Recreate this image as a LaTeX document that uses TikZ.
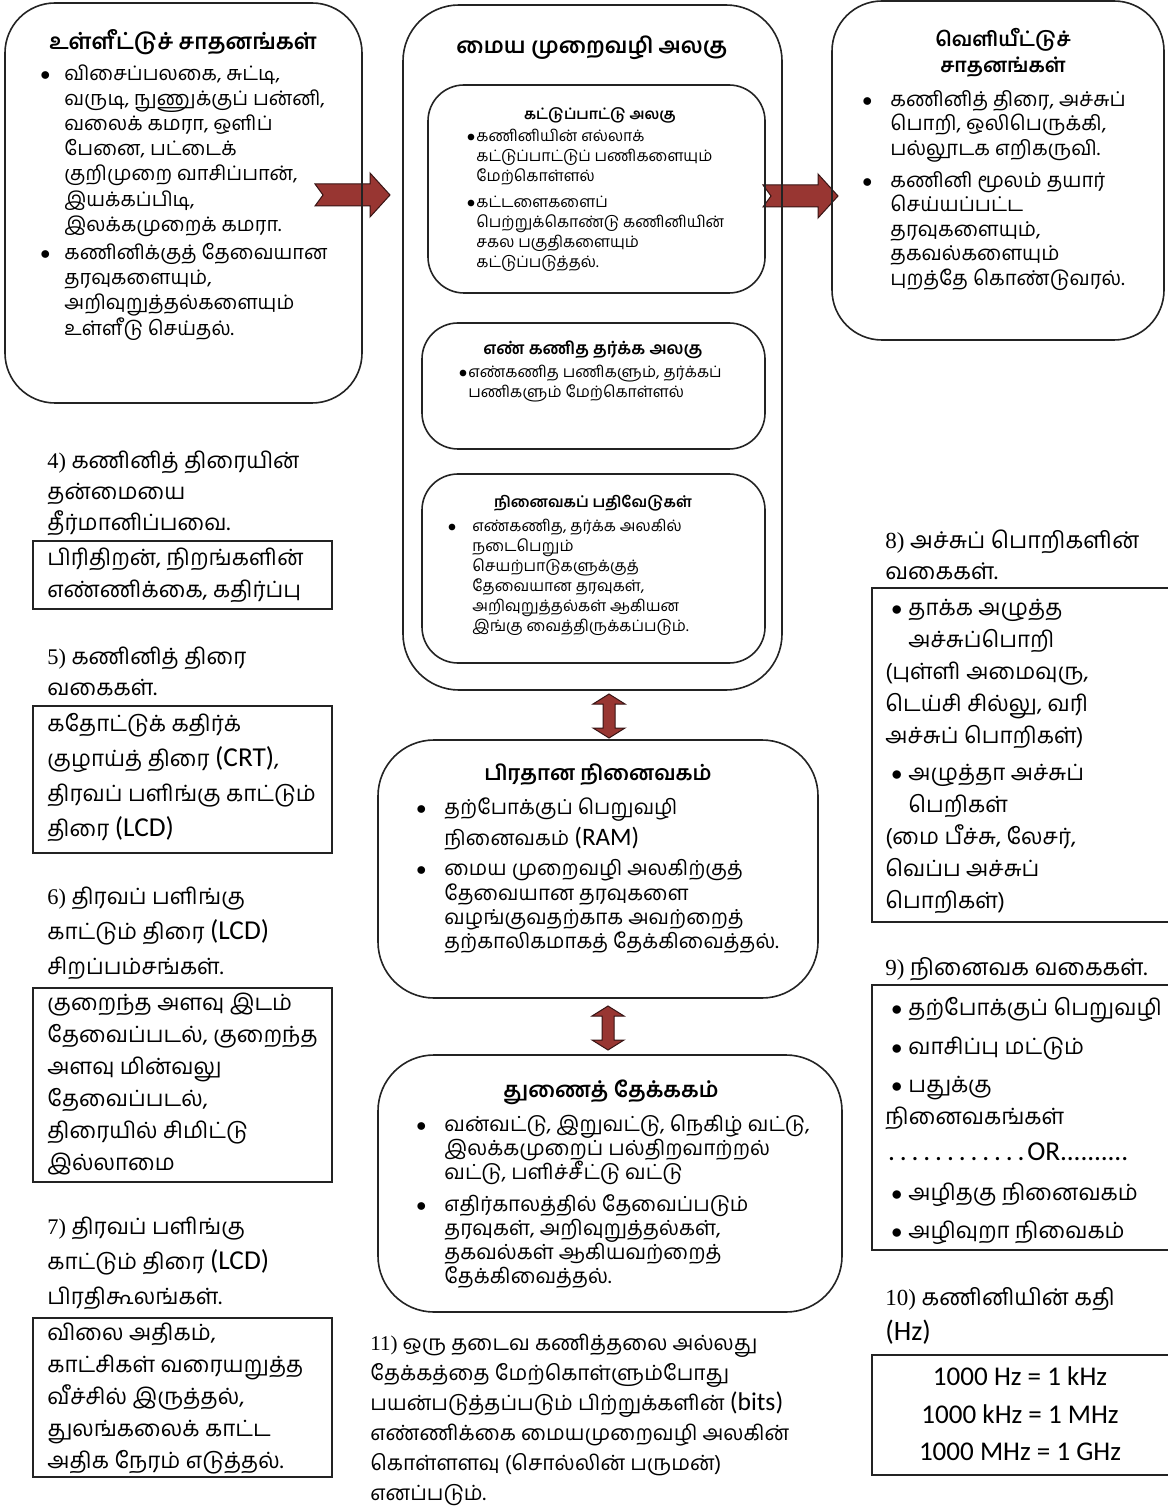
\documentclass[tikz,border=0pt]{standalone}
\usepackage{fontspec}
\setmainfont{Carlito}
\newfontfamily\tamil[Script=Tamil]{Hind Madurai}
\newfontfamily\calib[Scale=1.22]{Carlito}
\newfontfamily\ser{Liberation Serif}
\usetikzlibrary{fit}

\definecolor{arrowred}{RGB}{152,54,50}
\definecolor{arrowline}{RGB}{55,20,20}
\definecolor{boxline}{RGB}{35,35,35}

\newcommand{\bul}[1][6pt]{\makebox[0pt][r]{$\bullet$\hspace{#1}}}
\newcommand{\dotrun}[2]{\hbox to #1{\xleaders\hbox to #2{\hss.\hss}\hfill}}

\tikzset{
  roundbox/.style={draw=boxline, line width=0.8pt, rounded corners=25pt, inner sep=0pt},
  innerbox/.style={roundbox, rounded corners=18pt},
  plainbox/.style={draw=boxline, line width=0.7pt, inner sep=0pt},
  fatarrow/.style={fill=arrowred, draw=arrowline, line width=0.5pt},
  headtext/.style={font=\tamil\bfseries\fontsize{11}{13}\selectfont, align=center, inner sep=0pt},
  smallhead/.style={font=\tamil\bfseries\fontsize{8}{10}\selectfont, inner sep=0pt},
  bodytext/.style={anchor=north west, align=left, inner sep=0pt, font=\tamil\fontsize{10}{12.6}\selectfont},
  smalltext/.style={bodytext, font=\tamil\fontsize{7.9}{10}\selectfont},
  sidetext/.style={bodytext, font=\tamil\fontsize{11.2}{16}\selectfont},
}

\begin{document}
\begin{tikzpicture}[x=0.5pt,y=-0.5pt]
\useasboundingbox (0,0) rectangle (1167,1507);
\fill[white] (0,0) rectangle (1167,1507);

% block arrows
\foreach \t in {(390,195),(838,196)}
  \filldraw[fatarrow, shift={\t}] (-75,-11) -- (-20,-11) -- (-20,-22) -- (0,0) -- (-20,22) -- (-20,11) -- (-75,11) -- (-67,0) -- cycle;
\foreach \t in {(609,716),(608,1028)}
  \filldraw[fatarrow, shift={\t}] (0,-22) -- (16,-12) -- (6,-12) -- (6,12) -- (16,12) -- (0,22) -- (-16,12) -- (-6,12) -- (-6,-12) -- (-16,-12) -- cycle;

% input devices
\node[roundbox, fit={(5,3) (362,403)}] (inbox) {};
\node[headtext] (intitle) at (183,42) {உள்ளீட்டுச் சாதனங்கள்};
\node[bodytext] (intext) at (64,64) {\bul[7pt]விசைப்பலகை, சுட்டி,\\ வருடி, நுணுக்குப் பன்னி,\\ வலைக் கமரா, ஒளிப்\\ பேனை, பட்டைக்\\ குறிமுறை வாசிப்பான்,\\ இயக்கப்பிடி,\\ இலக்கமுறைக் கமரா.\\[1.5pt] \bul[7pt]கணினிக்குத் தேவையான\\ தரவுகளையும்,\\ அறிவுறுத்தல்களையும்\\ உள்ளீடு செய்தல்.};

% central processing unit
\node[roundbox, rounded corners=28pt, fit={(403,5) (782,690)}] (cpu) {};
\node[headtext] (cputitle) at (592,48) {மைய முறைவழி அலகு};

\node[innerbox, fit={(428,85) (765,293)}] (ctrl) {};
\node[smallhead, font=\tamil\bfseries\fontsize{7.4}{10}\selectfont] (ctrltitle) at (600,115) {கட்டுப்பாட்டு அலகு};
\node[smalltext] (ctrltext) at (476,129) {\bul[0.5pt]கணினியின் எல்லாக்\\ கட்டுப்பாட்டுப் பணிகளையும்\\ மேற்கொள்ளல்\\[3pt] \bul[0.5pt]கட்டளைகளைப்\\ பெற்றுக்கொண்டு கணினியின்\\ சகல பகுதிகளையும்\\ கட்டுப்படுத்தல்.};

\node[innerbox, fit={(422,323) (765,449)}] (alu) {};
\node[smallhead, font=\tamil\bfseries\fontsize{8.5}{10}\selectfont] (alutitle) at (593,350) {எண் கணித தர்க்க அலகு};
\node[smalltext] (alutext) at (468,365) {\bul[0.5pt]எண்கணித பணிகளும், தர்க்கப்\\ பணிகளும் மேற்கொள்ளல்};

\node[innerbox, fit={(422,474) (765,663)}] (reg) {};
\node[smallhead, font=\tamil\bfseries\fontsize{7.6}{10}\selectfont] (regtitle) at (593,503) {நினைவகப் பதிவேடுகள்};
\node[smalltext] (regtext) at (472,519) {\bul[8pt]எண்கணித, தர்க்க அலகில்\\ நடைபெறும்\\ செயற்பாடுகளுக்குத்\\ தேவையான தரவுகள்,\\ அறிவுறுத்தல்கள் ஆகியன\\ இங்கு வைத்திருக்கப்படும்.};

% output devices
\node[roundbox, fit={(832,1) (1164,340)}] (outbox) {};
\node[headtext, font=\tamil\bfseries\fontsize{10}{13}\selectfont] (outtitle) at (1003,53) {வெளியீட்டுச்\\ சாதனங்கள்};
\node[bodytext, font=\tamil\fontsize{10.2}{12.2}\selectfont] (outtext) at (890,90) {\bul[9pt]கணினித் திரை, அச்சுப்\\ பொறி, ஒலிபெருக்கி,\\ பல்லூடக எறிகருவி.\\[4pt] \bul[9pt]கணினி மூலம் தயார்\\ செய்யப்பட்ட\\ தரவுகளையும்,\\ தகவல்களையும்\\ புறத்தே கொண்டுவரல்.};

% main memory
\node[roundbox, rounded corners=28pt, fit={(378,740) (818,998)}] (ram) {};
\node[headtext, font=\tamil\bfseries\fontsize{10.4}{13}\selectfont] (ramtitle) at (598,775) {பிரதான நினைவகம்};
\node[bodytext, font=\tamil\fontsize{10.3}{12.2}\selectfont] (ramtext) at (444,797) {\bul[9pt]தற்போக்குப் பெறுவழி\\[2pt] நினைவகம் {\calib (RAM)}\\[3pt] \bul[9pt]மைய முறைவழி அலகிற்குத்\\ தேவையான தரவுகளை\\ வழங்குவதற்காக அவற்றைத்\\ தற்காலிகமாகத் தேக்கிவைத்தல்.};

% secondary storage
\node[roundbox, rounded corners=28pt, fit={(378,1055) (842,1312)}] (store) {};
\node[headtext, font=\tamil\bfseries\fontsize{10.8}{13}\selectfont] (storetitle) at (611,1092) {துணைத் தேக்ககம்};
\node[bodytext, font=\tamil\fontsize{10.4}{12}\selectfont] (storetext) at (444,1114) {\bul[9pt]வன்வட்டு, இறுவட்டு, நெகிழ் வட்டு,\\ இலக்கமுறைப் பல்திறவாற்றல்\\ வட்டு, பளிச்சீட்டு வட்டு\\[4pt] \bul[9pt]எதிர்காலத்தில் தேவைப்படும்\\ தரவுகள், அறிவுறுத்தல்கள்,\\ தகவல்கள் ஆகியவற்றைத்\\ தேக்கிவைத்தல்.};

\node[bodytext, font=\tamil\fontsize{10.5}{15}\selectfont] (note11) at (370,1334) {{\ser 11)} ஒரு தடைவ கணித்தலை அல்லது\\ தேக்கத்தை மேற்கொள்ளும்போது\\ பயன்படுத்தப்படும் பிற்றுக்களின் {\calib (bits)}\\ எண்ணிக்கை மையமுறைவழி அலகின்\\ கொள்ளளவு (சொல்லின் பருமன்)\\ எனப்படும்.};

% left column
\node[sidetext, font=\tamil\fontsize{11.2}{15.5}\selectfont] (head4) at (47,451) {{\ser 4)} கணினித் திரையின்\\ தன்மையை\\ தீர்மானிப்பவை.};
\node[plainbox, fit={(33,541) (332,609)}] (box4) {};
\node[sidetext] (text4) at (47,548) {பிரிதிறன், நிறங்களின்\\ எண்ணிக்கை, கதிர்ப்பு};

\node[sidetext, font=\tamil\fontsize{11.2}{15.5}\selectfont] (head5) at (47,647) {{\ser 5)} கணினித் திரை\\ வகைகள்.};
\node[plainbox, fit={(33,706) (332,853)}] (box5) {};
\node[sidetext, font=\tamil\fontsize{11.2}{17.5}\selectfont] (text5) at (47,713) {கதோட்டுக் கதிர்க்\\ குழாய்த் திரை {\calib (CRT)},\\ திரவப் பளிங்கு காட்டும்\\ திரை {\calib (LCD)}};

\node[sidetext, font=\tamil\fontsize{11.2}{17.5}\selectfont] (head6) at (47,887) {{\ser 6)} திரவப் பளிங்கு\\ காட்டும் திரை {\calib (LCD)}\\ சிறப்பம்சங்கள்.};
\node[plainbox, fit={(33,988) (332,1182)}] (box6) {};
\node[sidetext] (text6) at (47,993) {குறைந்த அளவு இடம்\\ தேவைப்படல், குறைந்த\\ அளவு மின்வலு\\ தேவைப்படல்,\\ திரையில் சிமிட்டு\\ இல்லாமை};

\node[sidetext, font=\tamil\fontsize{11.2}{17.5}\selectfont] (head7) at (47,1217) {{\ser 7)} திரவப் பளிங்கு\\ காட்டும் திரை {\calib (LCD)}\\ பிரதிகூலங்கள்.};
\node[plainbox, fit={(33,1318) (332,1477)}] (box7) {};
\node[sidetext] (text7) at (47,1323) {விலை அதிகம்,\\ காட்சிகள் வரையறுத்த\\ வீச்சில் இருத்தல்,\\ துலங்கலைக் காட்ட\\ அதிக நேரம் எடுத்தல்.};

% right column
\node[sidetext, font=\tamil\fontsize{11.5}{15.5}\selectfont] (head8) at (885,529) {{\ser 8)} அச்சுப் பொறிகளின்\\ வகைகள்.};
\node[plainbox, fit={(872,588) (1175,922)}] (box8) {};
\node[sidetext] (text8) at (885,599) {\hspace*{11.5pt}\bul[3pt]தாக்க அழுத்த\\ \hspace*{11.5pt}அச்சுப்பொறி\\ (புள்ளி அமைவுரு,\\ டெய்சி சில்லு, வரி\\ அச்சுப் பொறிகள்)\\[2.5pt] \hspace*{11.5pt}\bul[3pt]அழுத்தா அச்சுப்\\ \hspace*{11.5pt}பெறிகள்\\ (மை பீச்சு, லேசர்,\\ வெப்ப அச்சுப்\\ பொறிகள்)};

\node[sidetext, font=\tamil\fontsize{11.5}{16}\selectfont] (head9) at (885,957) {{\ser 9)} நினைவக வகைகள்.};
\node[plainbox, fit={(872,985) (1175,1250)}] (box9) {};
\node[sidetext] (text9) at (885,997) {\hspace*{11.5pt}\bul[3pt]தற்போக்குப் பெறுவழி\\[3.5pt] \hspace*{11.5pt}\bul[3pt]வாசிப்பு மட்டும்\\[3pt] \hspace*{11.5pt}\bul[3pt]பதுக்கு\\ நினைவகங்கள்\\[2pt] {\calib\dotrun{71pt}{5.5pt}OR\dotrun{34pt}{3.4pt}}\\[4pt] \hspace*{11.5pt}\bul[3pt]அழிதகு நினைவகம்\\[3pt] \hspace*{11.5pt}\bul[3pt]அழிவுறா நிவைகம்};

\node[sidetext, font=\tamil\fontsize{11.5}{17.5}\selectfont] (head10) at (885,1287) {{\ser 10)} கணினியின் கதி\\ {\calib (Hz)}};
\node[plainbox, fit={(872,1355) (1175,1475)}] (box10) {};
\node[align=center, inner sep=0pt, font=\calib\fontsize{11.1}{18.75}\selectfont] (text10) at (1020,1414) {1000 Hz = 1 kHz\\ 1000 kHz = 1 MHz\\ 1000 MHz = 1 GHz};

\end{tikzpicture}
\end{document}
